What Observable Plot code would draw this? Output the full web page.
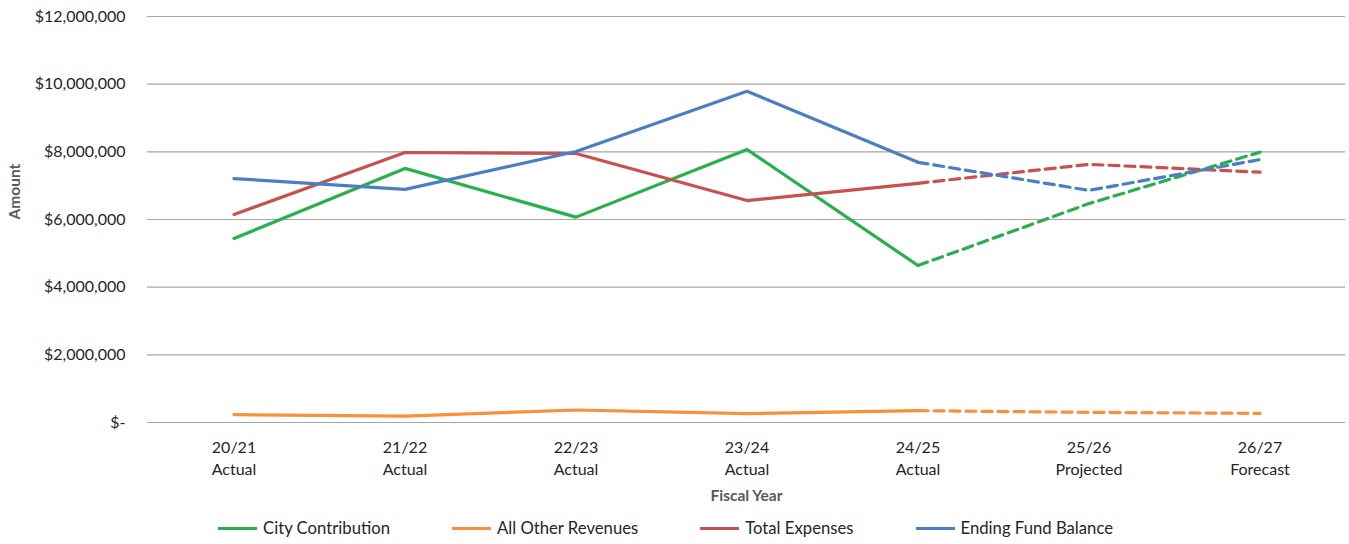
<!DOCTYPE html>
<html>
<head>
<meta charset="utf-8">
<script src="https://cdn.jsdelivr.net/npm/d3@7"></script>
<script src="https://cdn.jsdelivr.net/npm/@observablehq/plot@0.6"></script>
<style>
  html, body { margin: 0; padding: 0; background: #fff; }
  body { width: 1349px; height: 544px; overflow: hidden; font-family: Lato, "Open Sans", sans-serif; }
  #legend { display: flex; align-items: center; height: 32px; padding-left: 218px; gap: 62px; font-size: 16.7px; color: #262626; }
  #legend .item { display: flex; align-items: center; }
  #legend .sw { width: 39px; height: 3px; margin-right: 6px; }
</style>
</head>
<body>
<div id="chart"></div>
<div id="legend"></div>
<script>
const categories = ["20/21", "21/22", "22/23", "23/24", "24/25", "25/26", "26/27"];
const periods = ["Actual", "Actual", "Actual", "Actual", "Actual", "Projected", "Forecast"];
const seriesNames = ["City Contribution", "All Other Revenues", "Total Expenses", "Ending Fund Balance"];
const seriesColors = ["#27b04b", "#f7923a", "#c9504d", "#4a7fc4"];
const cityContribution = [5440000, 7510000, 6070000, 8070000, 4640000, 6470000, 7990000];
const otherRevenues = [230000, 190000, 370000, 260000, 350000, 300000, 270000];
const totalExpenses = [6150000, 7980000, 7950000, 6560000, 7070000, 7630000, 7400000];
const endingFundBalance = [7210000, 6890000, 8010000, 9790000, 7690000, 6860000, 7770000];
const yTicks = [0, 2000000, 4000000, 6000000, 8000000, 10000000, 12000000];
const lastActualIndex = 4;

const seriesValues = [cityContribution, otherRevenues, totalExpenses, endingFundBalance];
const rows = [];
seriesNames.forEach((name, s) => {
  categories.forEach((c, i) => rows.push({series: name, cat: c, i, value: seriesValues[s][i]}));
});
const actualRows = rows.filter(d => d.i <= lastActualIndex);
const forecastRows = rows.filter(d => d.i >= lastActualIndex);

const fmt = v => v === 0 ? "$-" : "$" + d3.format(",")(v);
const labelOf = Object.fromEntries(categories.map((c, i) => [c, c + "\n" + periods[i]]));

const chart = Plot.plot({
  width: 1349,
  height: 512,
  marginLeft: 147,
  marginRight: 4,
  marginTop: 16,
  marginBottom: 90,
  style: {fontFamily: "Lato, 'Open Sans', sans-serif", color: "#262626", background: "#fff"},
  x: {type: "band", domain: categories, padding: 0},
  y: {domain: [0, 12000000]},
  color: {domain: seriesNames, range: seriesColors},
  marks: [
    Plot.gridY(yTicks, {stroke: "#a6a6a6", strokeOpacity: 1, strokeWidth: 1.2}),
    Plot.ruleX([0], {frameAnchor: "left", stroke: "#a6a6a6", strokeWidth: 1.2}),
    Plot.axisY(yTicks, {tickSize: 0, tickPadding: 22, tickFormat: fmt, fontSize: 16, label: null, fill: "#262626"}),
    Plot.axisX({tickSize: 0, tickPadding: 15, tickFormat: c => labelOf[c], fontSize: 16, lineHeight: 1.38, label: null, fill: "#262626"}),
    Plot.line(actualRows, {x: "cat", y: "value", z: "series", stroke: "series", strokeWidth: 3.2, strokeLinejoin: "miter"}),
    Plot.line(forecastRows, {x: "cat", y: "value", z: "series", stroke: "series", strokeWidth: 3.2, strokeDasharray: "10,6"}),
    Plot.text(["Amount"], {frameAnchor: "left", dx: -132, rotate: -90, fontWeight: "bold", fontSize: 15.5, fill: "#595959"}),
    Plot.text(["Fiscal Year"], {frameAnchor: "bottom", dy: 78, fontWeight: "bold", fontSize: 15.5, fill: "#595959"})
  ]
});
document.getElementById("chart").appendChild(chart);

const legend = document.getElementById("legend");
seriesNames.forEach((name, s) => {
  const item = document.createElement("div");
  item.className = "item";
  const sw = document.createElement("span");
  sw.className = "sw";
  sw.style.background = seriesColors[s];
  const t = document.createElement("span");
  t.textContent = name;
  item.appendChild(sw);
  item.appendChild(t);
  legend.appendChild(item);
});
</script>
</body>
</html>
